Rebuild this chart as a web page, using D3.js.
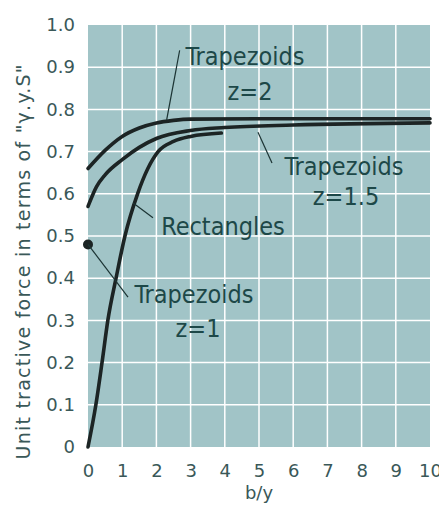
<!DOCTYPE html>
<html>
	<head>
		<title>Unit tractive force</title>
		<style type="text/css">
			body{ margin:0; background:#ffffff; }
			#board{ width:439px; height:509px; }
			text{ font-family:"DejaVu Sans", Verdana, sans-serif; }
			.lab{ font-family:"DejaVu Sans Condensed", "DejaVu Sans", sans-serif; font-stretch:condensed; }
		</style>
	</head>
	<body>
		<div id="board"></div>
	<script type="text/javascript" src="https://cdn.jsdelivr.net/npm/d3@7/dist/d3.min.js"></script>
	<script>
		// ticks
		var xTicks = [0,1,2,3,4,5,6,7,8,9,10];
		var yTicks = [0,0.1,0.2,0.3,0.4,0.5,0.6,0.7,0.8,0.9,1.0];
		var yTickLabels = ['0','0.1','0.2','0.3','0.4','0.5','0.6','0.7','0.8','0.9','1.0'];

		// curves (x = b/y, y = unit tractive force)
		var trapZ2 = [[0,0.66],[0.5,0.703],[1,0.736],[1.5,0.756],[2,0.768],[2.5,0.774],[3,0.777],[5,0.778],[10,0.778]];
		var trapZ15 = [[0,0.57],[0.25,0.617],[0.5,0.645],[1,0.681],[1.5,0.71],[2,0.731],[3,0.75],[4,0.757],[6,0.763],[10,0.768]];
		var rectangles = [[0,0],[0.23,0.1],[0.41,0.2],[0.58,0.3],[0.82,0.4],[1.08,0.5],[1.45,0.6],[1.75,0.66],[2.05,0.7],[2.5,0.724],[3,0.736],[3.9,0.744]];

		// dot for z=1
		var dotZ1 = [0,0.48];

		var margin = {left:88, top:25, right:9, bottom:62};
		var W = 439, H = 509;

		var x = d3.scaleLinear().domain([0,10]).range([margin.left, W - margin.right]);
		var y = d3.scaleLinear().domain([0,1]).range([H - margin.bottom, margin.top]);

		var svg = d3.select('#board').append('svg')
				.attr('width',W).attr('height',H);

		svg.append('rect')
			.attr('x',x(0)).attr('y',y(1))
			.attr('width',x(10)-x(0)).attr('height',y(0)-y(1))
			.style('fill','#a1c4c7');

		var grid = svg.append('g');
		grid.selectAll('.vg')
			.data(xTicks.slice(1,-1))
			.enter().append('line')
			.attr('x1',function(d){ return x(d); })
			.attr('x2',function(d){ return x(d); })
			.attr('y1',y(0)).attr('y2',y(1))
			.style('stroke','#ffffff').style('stroke-width',1.5);
		grid.selectAll('.hg')
			.data(yTicks.slice(1,-1))
			.enter().append('line')
			.attr('y1',function(d){ return y(d); })
			.attr('y2',function(d){ return y(d); })
			.attr('x1',x(0)).attr('x2',x(10))
			.style('stroke','#ffffff').style('stroke-width',1.5);

		// axes, only the labels are visible
		svg.append('g')
			.attr('transform','translate(0,' + (y(0) + 14) + ')')
			.call(d3.axisBottom(x).tickValues(xTicks).tickSize(0).tickFormat(d3.format('d')));
		svg.append('g')
			.attr('transform','translate(' + (x(0) - 10) + ',0)')
			.call(d3.axisLeft(y).tickValues(yTicks).tickSize(0)
				.tickFormat(function(d,i){ return yTickLabels[i]; }));
		svg.selectAll('.domain').remove();
		svg.selectAll('.tick text')
			.style('font-family','"DejaVu Sans", Verdana, sans-serif')
			.style('font-size','18px')
			.style('fill','#3a5858');

		svg.append('text')
			.attr('x',x(5)).attr('y',499)
			.attr('text-anchor','middle')
			.style('font-size','18px').style('fill','#3a5858')
			.text('b/y');

		svg.append('text')
			.attr('transform','translate(30,' + 262 + ') rotate(-90)')
			.attr('text-anchor','middle')
			.attr('textLength',395).attr('lengthAdjust','spacing')
			.style('font-size','19px').style('fill','#3a5858')
			.text('Unit tractive force in terms of "γ.y.S"');

		var line = d3.line()
			.x(function(d){ return x(d[0]); })
			.y(function(d){ return y(d[1]); })
			.curve(d3.curveMonotoneX);

		var curves = svg.append('g');
		curves.selectAll('.curve')
			.data([trapZ2, trapZ15, rectangles])
			.enter().append('path')
			.attr('class','curve')
			.attr('d',line)
			.style('fill','none')
			.style('stroke','#1c2424')
			.style('stroke-width',3.6)
			.style('stroke-linecap','round');

		svg.append('circle')
			.attr('cx',x(dotZ1[0])).attr('cy',y(dotZ1[1]))
			.attr('r',5)
			.style('fill','#1c2424');

		// leader lines and labels
		var leaders = [
			[[2.68,0.94],[2.3,0.775]],
			[[4.97,0.746],[5.38,0.673]],
			[[1.9,0.543],[1.32,0.578]],
			[[0,0.48],[1.17,0.355]]
		];
		svg.selectAll('.leader')
			.data(leaders)
			.enter().append('line')
			.attr('x1',function(d){ return x(d[0][0]); })
			.attr('y1',function(d){ return y(d[0][1]); })
			.attr('x2',function(d){ return x(d[1][0]); })
			.attr('y2',function(d){ return y(d[1][1]); })
			.style('stroke','#1c3434').style('stroke-width',1.2);

		var labels = [
			{t:'Trapezoids', x:245, y:65},
			{t:'z=2', x:250, y:100},
			{t:'Trapezoids', x:344, y:175},
			{t:'z=1.5', x:346, y:205},
			{t:'Rectangles', x:223, y:235},
			{t:'Trapezoids', x:194, y:303},
			{t:'z=1', x:198, y:337}
		];
		svg.selectAll('.lab')
			.data(labels)
			.enter().append('text')
			.attr('class','lab')
			.attr('x',function(d){ return d.x; })
			.attr('y',function(d){ return d.y; })
			.attr('text-anchor','middle')
			.style('font-size','25px')
			.style('fill','#1d4848')
			.text(function(d){ return d.t; });
	</script>
	</body>
</html>
